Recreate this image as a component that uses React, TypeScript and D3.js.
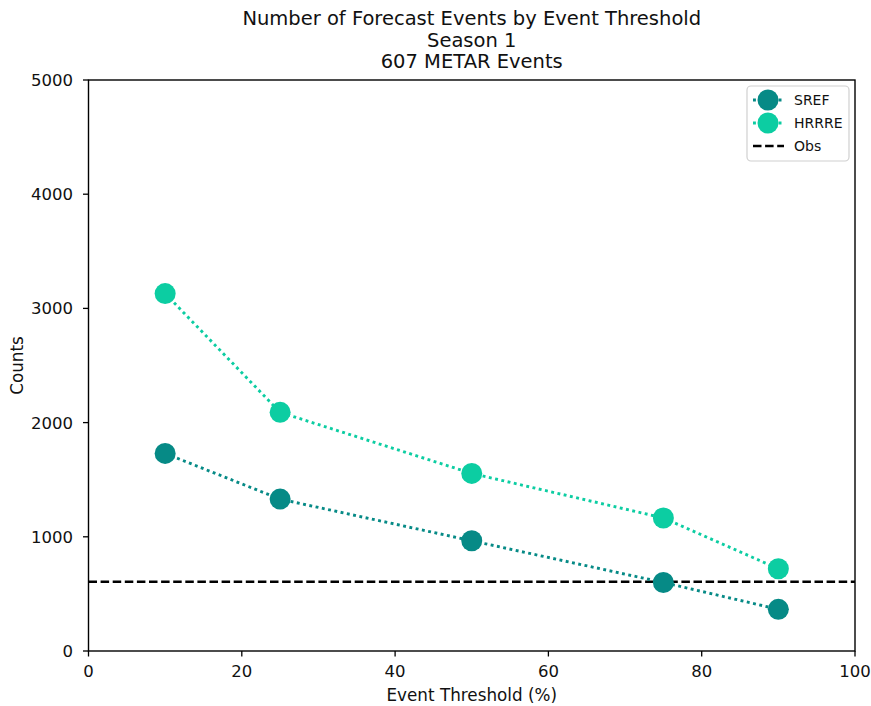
import React from "react";
import * as d3 from "d3";

// Event thresholds (%) and forecast event counts per ensemble
const thresholds = [10, 25, 50, 75, 90];
const srefCounts = [1730, 1330, 965, 600, 365];
const hrrreCounts = [3130, 2090, 1555, 1165, 720];
const obsCount = 607;

const xTicks = [0, 20, 40, 60, 80, 100];
const yTicks = [0, 1000, 2000, 3000, 4000, 5000];
const titleLines = [
  "Number of Forecast Events by Event Threshold",
  "Season 1",
  "607 METAR Events",
];

const WIDTH = 871;
const HEIGHT = 706;
const FONT = "'DejaVu Sans', sans-serif";
const SREF_COLOR = "#068a86";
const HRRRE_COLOR = "#0ccda2";

export default function App() {
  const left = 88.5;
  const right = 855;
  const top = 80;
  const bottom = 651;

  const x = d3.scaleLinear().domain([0, 100]).range([left, right]);
  const y = d3.scaleLinear().domain([0, 5000]).range([bottom, top]);

  const line = d3
    .line<[number, number]>()
    .x((d) => x(d[0]))
    .y((d) => y(d[1]));

  const series = [
    { name: "SREF", values: srefCounts, color: SREF_COLOR },
    { name: "HRRRE", values: hrrreCounts, color: HRRRE_COLOR },
  ];

  const cx = (left + right) / 2;
  const cy = (top + bottom) / 2;

  return (
    <svg
      width={WIDTH}
      height={HEIGHT}
      style={{ position: "absolute", left: 0, top: 0, background: "#fff" }}
      fontFamily={FONT}
    >
      {/* title */}
      {titleLines.map((t, i) => (
        <text
          key={t}
          x={cx}
          y={25 + i * 21.5}
          textAnchor="middle"
          fontSize={19.5}
          fill="#111"
        >
          {t}
        </text>
      ))}

      {/* observed event count */}
      <line
        x1={left}
        x2={right}
        y1={y(obsCount)}
        y2={y(obsCount)}
        stroke="#000"
        strokeWidth={2.4}
        strokeDasharray="8.5,3.6"
      />

      {/* series */}
      {series.map((s) => {
        const pts = thresholds.map((t, i) => [t, s.values[i]] as [number, number]);
        return (
          <g key={s.name}>
            <path
              d={line(pts) ?? ""}
              fill="none"
              stroke={s.color}
              strokeWidth={2.9}
              strokeDasharray="2.9,3.5"
            />
            {pts.map((p) => (
              <circle key={p[0]} cx={x(p[0])} cy={y(p[1])} r={10.5} fill={s.color} />
            ))}
          </g>
        );
      })}

      {/* frame */}
      <rect
        x={left}
        y={top}
        width={right - left}
        height={bottom - top}
        fill="none"
        stroke="#000"
        strokeWidth={1.4}
      />

      {/* x axis */}
      {xTicks.map((t) => (
        <g key={t}>
          <line x1={x(t)} x2={x(t)} y1={bottom} y2={bottom + 5.5} stroke="#000" strokeWidth={1.3} />
          <text x={x(t)} y={677} textAnchor="middle" fontSize={16.5} fill="#111">
            {t}
          </text>
        </g>
      ))}
      <text x={cx} y={701} textAnchor="middle" fontSize={16.8} fill="#111">
        Event Threshold (%)
      </text>

      {/* y axis */}
      {yTicks.map((t) => (
        <g key={t}>
          <line x1={left - 5.5} x2={left} y1={y(t)} y2={y(t)} stroke="#000" strokeWidth={1.3} />
          <text x={73} y={y(t)} dy="0.36em" textAnchor="end" fontSize={16.5} fill="#111">
            {t}
          </text>
        </g>
      ))}
      <text
        transform={`translate(23,${cy}) rotate(-90)`}
        textAnchor="middle"
        fontSize={16.8}
        fill="#111"
      >
        Counts
      </text>

      {/* legend */}
      <g>
        <rect
          x={747}
          y={86}
          width={102}
          height={75}
          rx={4}
          fill="#fff"
          fillOpacity={0.8}
          stroke="#d0d0d0"
          strokeWidth={1.2}
        />
        {series.map((s, i) => {
          const ly = 100 + i * 23;
          return (
            <g key={s.name}>
              <line
                x1={753}
                x2={784}
                y1={ly}
                y2={ly}
                stroke={s.color}
                strokeWidth={2.9}
                strokeDasharray="2.9,3.5"
              />
              <circle cx={768} cy={ly} r={10.5} fill={s.color} />
              <text x={794} y={ly} dy="0.36em" fontSize={14} fill="#111">
                {s.name}
              </text>
            </g>
          );
        })}
        <line
          x1={753}
          x2={784}
          y1={146}
          y2={146}
          stroke="#000"
          strokeWidth={2.4}
          strokeDasharray="8.5,3.6"
        />
        <text x={794} y={146} dy="0.36em" fontSize={14} fill="#111">
          Obs
        </text>
      </g>
    </svg>
  );
}
